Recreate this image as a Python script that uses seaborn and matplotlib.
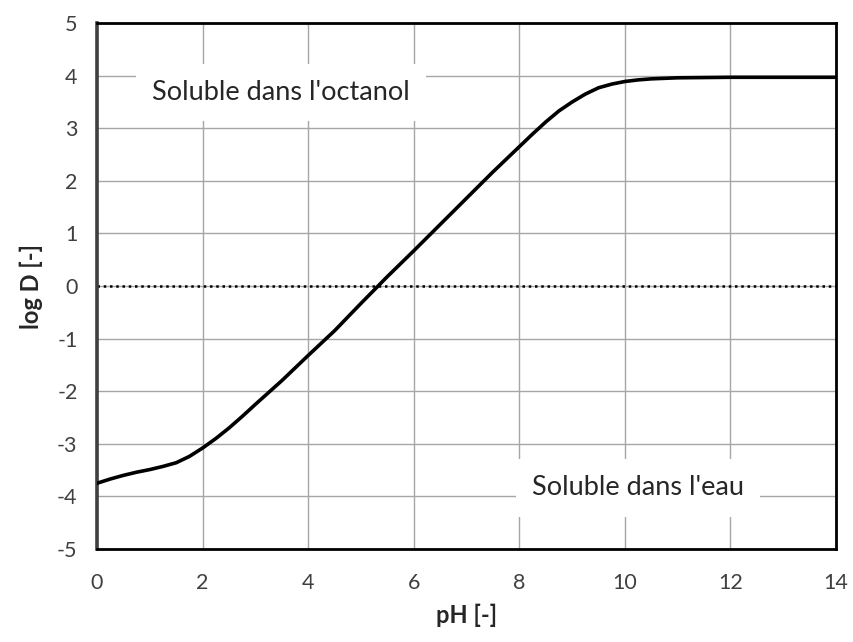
import numpy as np
import pandas as pd
import matplotlib
matplotlib.use('Agg')
import matplotlib.pyplot as plt
import seaborn as sns

# values
ph = [0, 0.25, 0.5, 0.75, 1, 1.25, 1.5, 1.75, 2, 2.25, 2.5, 2.75, 3, 3.5,
      4, 4.5, 5, 5.5, 6, 6.5, 7, 7.5, 8, 8.25, 8.5, 8.75, 9, 9.25, 9.5,
      9.75, 10, 10.25, 10.5, 11, 12, 13, 14]
log_d = [-3.75, -3.67, -3.6, -3.54, -3.49, -3.43, -3.36, -3.24, -3.08, -2.9,
         -2.7, -2.48, -2.25, -1.8, -1.32, -0.85, -0.33, 0.18, 0.67, 1.17,
         1.67, 2.17, 2.65, 2.89, 3.12, 3.33, 3.5, 3.65, 3.77, 3.84, 3.89,
         3.92, 3.94, 3.96, 3.97, 3.97, 3.97]
x_ticks = [0, 2, 4, 6, 8, 10, 12, 14]
y_ticks = [-5, -4, -3, -2, -1, 0, 1, 2, 3, 4, 5]

df = pd.DataFrame({'pH': ph, 'logD': log_d})

sns.set_style('white')
plt.rcParams['font.family'] = ['Lato', 'DejaVu Sans']
plt.rcParams['axes.unicode_minus'] = False

fig = plt.figure(figsize=(8.54, 6.42), dpi=100)
ax = fig.add_axes([0.1136, 0.1449, 0.979 - 0.1136, 0.964 - 0.1449])

ax.grid(True, color='#a6a6a6', linewidth=1)
ax.set_axisbelow(True)

# zero line
ax.axhline(0, color='black', linestyle=(0, (1, 1.5)), linewidth=1.8, zorder=2)

sns.lineplot(data=df, x='pH', y='logD', ax=ax, color='black', linewidth=2.6, zorder=3)

ax.set_xlim(0, 14)
ax.set_ylim(-5, 5)
ax.set_xticks(x_ticks)
ax.set_yticks(y_ticks)
ax.tick_params(axis='both', length=0, labelsize=15.5, labelcolor='#404040')
ax.tick_params(axis='x', pad=17)
ax.tick_params(axis='y', pad=14)

for side in ['top', 'right', 'bottom']:
    ax.spines[side].set_color('black')
    ax.spines[side].set_linewidth(2)
ax.spines['left'].set_color('#404040')
ax.spines['left'].set_linewidth(2.6)

ax.set_xlabel('pH [-]', fontsize=17, fontweight='bold', labelpad=8)
ax.set_ylabel('log D [-]', fontsize=17, fontweight='bold', labelpad=10)

box = dict(boxstyle='square,pad=0.6', facecolor='white', edgecolor='none')
ax.text(3.48, 3.54, "Soluble dans l'octanol", fontsize=19.5, ha='center', va='baseline',
        bbox=box, zorder=4)
ax.text(10.25, -3.98, "Soluble dans l'eau", fontsize=19.5, ha='center', va='baseline',
        bbox=box, zorder=4)

fig.savefig('out.png', dpi=100)
